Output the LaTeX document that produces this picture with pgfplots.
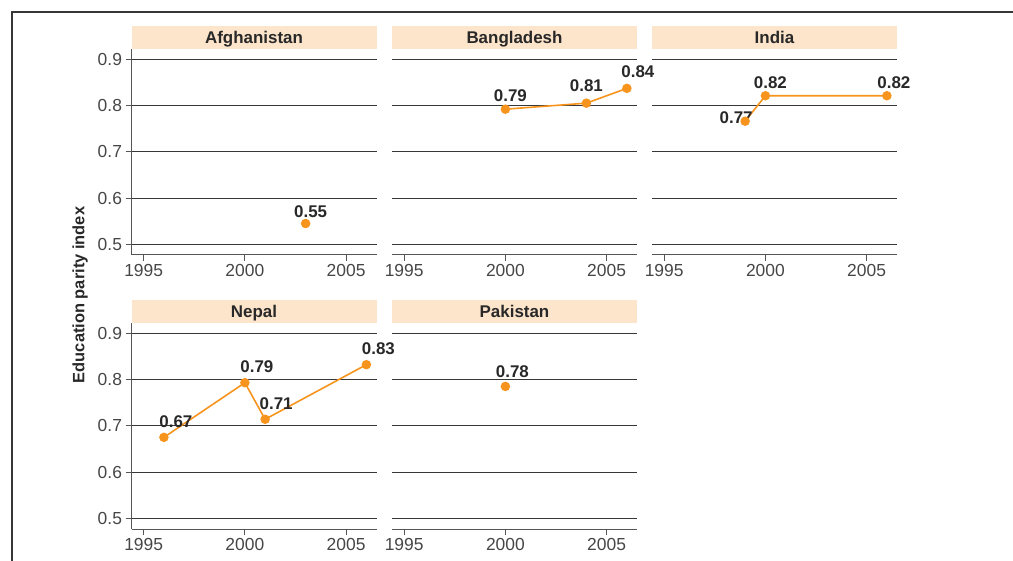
\documentclass[border=0pt]{standalone}
\usepackage{fontspec}
\setmainfont{Liberation Sans}
\usepackage{pgfplots}
\pgfplotsset{compat=1.18}

\definecolor{dotorange}{RGB}{247,148,30}
\definecolor{stripcol}{RGB}{253,229,203}
\definecolor{gridgray}{RGB}{55,55,55}
\definecolor{axisgray}{RGB}{85,85,85}
\definecolor{tickgray}{RGB}{70,70,70}
\definecolor{labgray}{RGB}{40,40,40}

\pgfplotsset{
  every axis title shift=0pt,
  panel/.style={
    scale only axis, width=245bp, height=206bp, anchor=south west,
    xmin=1994.4, xmax=2006.5, ymin=0.477, ymax=0.922,
    xtick={1995,2000,2005}, ytick={0.5,0.6,0.7,0.8,0.9},
    axis x line*=bottom, axis y line*=left,
    tick align=outside, major tick length=6bp,
    ymajorgrids, major grid style={draw=gridgray, line width=1.1bp},
    axis line style={draw=axisgray, line width=1bp},
    tick style={draw=axisgray, line width=1bp},
    /pgf/number format/assume math mode=true,
    /pgf/number format/1000 sep={},
    yticklabel style={font=\fontsize{17.5}{17.5}\selectfont, text=tickgray,
      /pgf/number format/fixed, /pgf/number format/precision=1,
      /pgf/number format/fixed zerofill},
    xticklabel style={font=\fontsize{17.5}{17.5}\selectfont, text=tickgray},
    title style={fill=stripcol, minimum width=245bp, minimum height=23bp,
      inner sep=0pt, text depth=0pt, at={(0.5,1)}, anchor=south, yshift=0pt,
      font=\bfseries\fontsize{17}{17}\selectfont, text=labgray},
    clip=false,
  },
  noy/.style={y axis line style={draw=none}, yticklabels={},
    ytick style={draw=none}},
  series/.style={color=dotorange, line width=1.6bp, mark=*, mark size=3.9bp,
    mark options={solid, fill=dotorange, draw=none}},
}
\tikzset{lab/.style={font=\bfseries\fontsize{17}{17}\selectfont, text=labgray,
  inner sep=0pt}}

\begin{document}
\begin{tikzpicture}
\path[use as bounding box] (0,0) rectangle (1013bp,561bp);
\draw[line width=1.3bp, color=gridgray] (12bp,0) -- (12bp,549bp) -- (1013bp,549bp);

% row 1
\begin{axis}[panel, at={(131.5bp,306bp)}, title={Afghanistan}]
  \addplot[series] coordinates {(2003,0.545)};
  \node[lab, xshift=5bp, yshift=12bp] at (axis cs:2003,0.545) {0.55};
\end{axis}

\begin{axis}[panel, noy, at={(392bp,306bp)}, title={Bangladesh}]
  \addplot[series] coordinates {(2000,0.792) (2004,0.805) (2006,0.837)};
  \node[lab, xshift=5bp, yshift=14bp] at (axis cs:2000,0.792) {0.79};
  \node[lab, xshift=0bp, yshift=17bp] at (axis cs:2004,0.805) {0.81};
  \node[lab, xshift=11bp, yshift=17bp] at (axis cs:2006,0.837) {0.84};
\end{axis}

\begin{axis}[panel, noy, at={(652bp,306bp)}, title={India}]
  \addplot[series] coordinates {(1999,0.766) (2000,0.821) (2006,0.821)};
  \node[lab, xshift=-9bp, yshift=4bp] at (axis cs:1999,0.766) {0.77};
  \node[lab, xshift=5bp, yshift=13bp] at (axis cs:2000,0.821) {0.82};
  \node[lab, xshift=7bp, yshift=13bp] at (axis cs:2006,0.821) {0.82};
\end{axis}

% row 2
\begin{axis}[panel, at={(131.5bp,32bp)}, title={Nepal}]
  \addplot[series] coordinates {(1996,0.675) (2000,0.793) (2001,0.714) (2006,0.832)};
  \node[lab, xshift=12bp, yshift=16bp] at (axis cs:1996,0.675) {0.67};
  \node[lab, xshift=12bp, yshift=16bp] at (axis cs:2000,0.793) {0.79};
  \node[lab, xshift=11bp, yshift=16bp] at (axis cs:2001,0.714) {0.71};
  \node[lab, xshift=12bp, yshift=16bp] at (axis cs:2006,0.832) {0.83};
\end{axis}

\begin{axis}[panel, noy, at={(392bp,32bp)}, title={Pakistan}]
  \addplot[series] coordinates {(2000,0.785)};
  \node[lab, xshift=7bp, yshift=15bp] at (axis cs:2000,0.785) {0.78};
\end{axis}

\node[rotate=90, font=\bfseries\fontsize{16.5}{16.5}\selectfont, text=labgray]
  at (80bp,266bp) {Education parity index};
\end{tikzpicture}
\end{document}
